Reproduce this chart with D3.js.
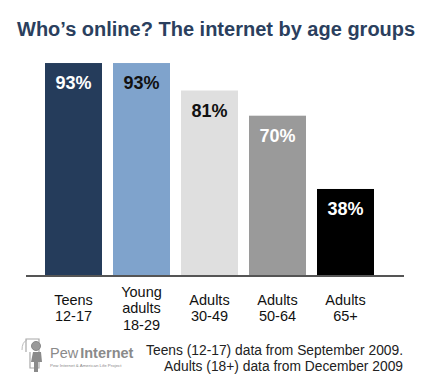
<!DOCTYPE html>
<html>
<head>
<meta charset="utf-8">
<script src="https://cdn.jsdelivr.net/npm/d3@7"></script>
<style>
  html, body { margin: 0; padding: 0; background: #fff; }
  svg { display: block; font-family: "Liberation Sans", Arial, sans-serif; }
</style>
</head>
<body>
<svg id="chart" width="430" height="391"></svg>
<script>
const title = "Who\u2019s online? The internet by age groups";
const categories = ["Teens\n12-17", "Young\nadults\n18-29", "Adults\n30-49", "Adults\n50-64", "Adults\n65+"];
const values = [93, 93, 81, 70, 38];
const valueLabels = ["93%", "93%", "81%", "70%", "38%"];
const barColors = ["#253c5b", "#7fa3cc", "#dfdfdf", "#9a9a9a", "#000000"];
const labelColors = ["#ffffff", "#111111", "#111111", "#ffffff", "#ffffff"];
const footnotes = ["Teens (12-17) data from September 2009.", "Adults (18+) data from December 2009"];

const svg = d3.select("#chart");

const x = d3.scaleBand().domain(categories).range([45, 374]).paddingInner(11 / 68).paddingOuter(0);
const y = d3.scaleLinear().domain([0, 100]).range([276, 47]);

// Title
svg.append("text")
  .attr("x", 17).attr("y", 36)
  .attr("font-size", 20).attr("font-weight", "bold")
  .attr("fill", "#2b3f5e")
  .text(title);

// Bars
const data = categories.map((c, i) => ({ c, v: values[i], lab: valueLabels[i], col: barColors[i], tc: labelColors[i] }));

svg.selectAll("rect.bar").data(data).join("rect")
  .attr("class", "bar")
  .attr("x", d => x(d.c))
  .attr("y", d => y(d.v))
  .attr("width", x.bandwidth())
  .attr("height", d => y(0) - y(d.v))
  .attr("fill", d => d.col);

svg.selectAll("text.val").data(data).join("text")
  .attr("class", "val")
  .attr("x", d => x(d.c) + x.bandwidth() / 2)
  .attr("y", d => y(d.v) + 26)
  .attr("text-anchor", "middle")
  .attr("font-size", 18).attr("font-weight", "bold")
  .attr("fill", d => d.tc)
  .text(d => d.lab);

// Baseline axis
const xAxis = d3.axisBottom(x).tickSize(0).tickFormat("");
const axG = svg.append("g").attr("transform", `translate(0,${y(0)})`).call(xAxis);
axG.select(".domain").remove();
axG.append("line")
  .attr("x1", 26).attr("x2", 404).attr("y1", 0).attr("y2", 0)
  .attr("stroke", "#555").attr("stroke-width", 2);

// Category labels (one text per line)
const lineH = 16.5;
const catLines = [];
data.forEach(d => {
  const lines = d.c.split("\n");
  const base = 313 - (lines.length - 1) * lineH / 2;
  lines.forEach((ln, k) => catLines.push({ x: x(d.c) + x.bandwidth() / 2, y: base + k * lineH, t: ln }));
});
svg.selectAll("text.cat").data(catLines).join("text")
  .attr("class", "cat")
  .attr("x", d => d.x).attr("y", d => d.y)
  .attr("text-anchor", "middle")
  .attr("font-size", 14.5)
  .attr("fill", "#111")
  .text(d => d.t);

// Footnote
svg.selectAll("text.foot").data(footnotes).join("text")
  .attr("class", "foot")
  .attr("x", 403)
  .attr("y", (d, i) => 355 + i * 15.5)
  .attr("text-anchor", "end")
  .attr("font-size", 13.8)
  .attr("fill", "#222")
  .text(d => d);

// Logo
const logo = svg.append("g").attr("fill", "none");
logo.append("path")
  .attr("d", "M26,352 L26,339 L39,339 L39,368 L30,368 L30,352")
  .attr("stroke", "#a8a8a8").attr("stroke-width", 1.2);
logo.append("circle").attr("cx", 36).attr("cy", 346).attr("r", 4.5)
  .attr("fill", "#999").attr("stroke", "#888").attr("stroke-width", 1);
logo.append("path")
  .attr("d", "M33,352 L41,352 L42,362 L38,362 L38,372 L34,372 L34,362 L31,362 Z")
  .attr("fill", "#8a8a8a");
logo.append("path")
  .attr("d", "M22,350 Q22,342 27,340")
  .attr("stroke", "#bbb").attr("stroke-width", 1);

const lt = svg.append("text").attr("x", 50).attr("y", 358).attr("font-size", 14.5).attr("fill", "#8a8a8a");
lt.append("tspan").text("Pew");
lt.append("tspan").attr("font-weight", "bold").attr("dx", 2).text("Internet");
svg.append("text").attr("x", 50).attr("y", 367).attr("font-size", 4.4).attr("fill", "#8a8a8a")
  .text("Pew Internet & American Life Project");
</script>
</body>
</html>
